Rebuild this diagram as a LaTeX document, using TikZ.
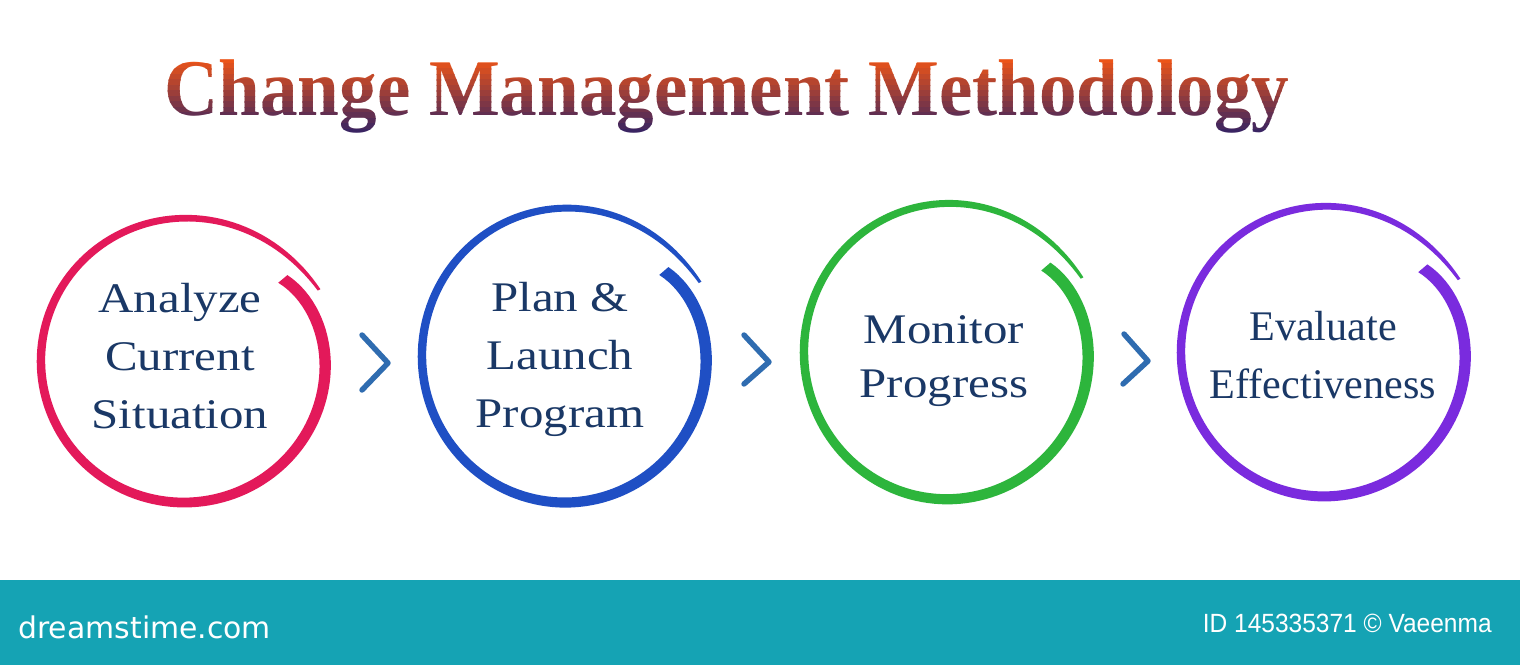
\documentclass[tikz,border=0pt]{standalone}
\usepackage{fontspec}
\setmainfont{Liberation Serif}
\newfontfamily\brandfont{DejaVu Sans}
\newfontfamily\idfont{Liberation Sans}
\usepackage{xcolor}
\definecolor{titletop}{HTML}{EC5418}
\definecolor{titlebot}{HTML}{2A2068}
\definecolor{stepnavy}{HTML}{1A3866}
\definecolor{ringred}{HTML}{E3195A}
\definecolor{ringblue}{HTML}{1F4FC4}
\definecolor{ringgreen}{HTML}{2DB53C}
\definecolor{ringpurple}{HTML}{7A2BDE}
\definecolor{chevblue}{HTML}{2F6CB0}
\definecolor{bandteal}{HTML}{15A3B4}

\begin{document}
\begin{tikzpicture}[x=0.02cm, y=-0.02cm,
	declare function={rr(\s)=143-14*exp(-(\s+40)/20)+10*exp((\s-332)/30); ww(\s)=12-6*(\s+40)/372-3*exp((\s-332)/25);},
	steptext/.style={align=center, text=stepnavy, font=\fontsize{24}{33}\selectfont},
	widetext/.style={steptext, xscale=1.16},
	chevron/.style={chevblue, line width=3.1pt, line cap=round, line join=round}]
	\useasboundingbox (0,0) rectangle (1520,665);
	\fill[white] (0,0) rectangle (1520,665);

	% title, orange on top fading to dark purple
	\foreach \i [evaluate=\i as \p using int(\i*100/14)] in {0,...,14} {
		\begin{scope}
			\clip (150,{58+5.5*\i}) rectangle (1310,{64+5.5*\i});
			\node[anchor=base, text=titlebot!\p!titletop, font=\bfseries\fontsize{44}{50}\selectfont] (title\i) at (727,116) {\scalebox{0.97}[1.04]{Change Management Methodology}};
		\end{scope}
	}

	% rings
	\fill[ringred, shift={(184,361)}, yscale=0.99] plot[domain=-40:332, samples=150, variable=\s] ({\s}:{rr(\s)+ww(\s)/2}) -- plot[domain=332:-40, samples=150, variable=\s] ({\s}:{rr(\s)-ww(\s)/2}) -- cycle;
	\fill[ringblue, shift={(565,356)}, yscale=1.025] plot[domain=-40:332, samples=150, variable=\s] ({\s}:{rr(\s)+ww(\s)/2}) -- plot[domain=332:-40, samples=150, variable=\s] ({\s}:{rr(\s)-ww(\s)/2}) -- cycle;
	\fill[ringgreen, shift={(947,352)}, yscale=1.03] plot[domain=-40:332, samples=150, variable=\s] ({\s}:{rr(\s)+ww(\s)/2}) -- plot[domain=332:-40, samples=150, variable=\s] ({\s}:{rr(\s)-ww(\s)/2}) -- cycle;
	\fill[ringpurple, shift={(1324,352)}, yscale=1.01] plot[domain=-40:332, samples=150, variable=\s] ({\s}:{rr(\s)+ww(\s)/2}) -- plot[domain=332:-40, samples=150, variable=\s] ({\s}:{rr(\s)-ww(\s)/2}) -- cycle;

	\node[widetext] (analyze) at (180,356) {Analyze\\Current\\Situation};
	\node[widetext] (plan) at (560,359) {Plan \&\\Launch\\Program};
	\node[widetext, font=\fontsize{24}{31}\selectfont] (monitor) at (944,361) {Monitor\\Progress};
	\node[steptext] (evaluate) at (1323,355) {Evaluate\\Effectiveness};

	% chevrons between the steps
	\draw[chevron] (362,335) -- (388,363) -- (362,390);
	\draw[chevron] (744,335) -- (769,362) -- (744,384);
	\draw[chevron] (1124,334) -- (1148,361) -- (1123,384);

	% bottom band
	\fill[bandteal] (0,580) rectangle (1520,665);
	\node[anchor=base west, inner sep=0, text=white, font=\brandfont\fontsize{17}{20}\selectfont] (brand) at (18,638) {dreamstime.com};
	\node[anchor=base east, inner sep=0, text=white, font=\idfont\fontsize{15}{18}\selectfont] (imageid) at (1492,632) {\scalebox{0.93}[1]{ID 145335371 © Vaeenma}};
\end{tikzpicture}
\end{document}
